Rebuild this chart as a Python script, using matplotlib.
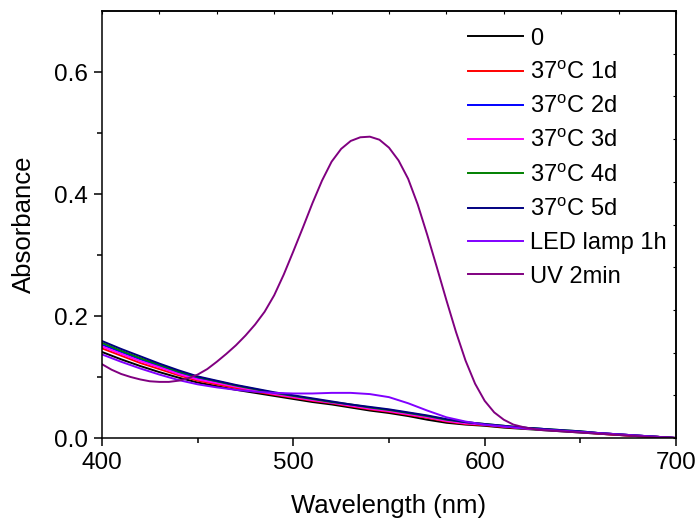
import numpy as np
import matplotlib
matplotlib.use("Agg")
import matplotlib.pyplot as plt

plt.rcParams['font.family'] = ['Liberation Sans', 'DejaVu Sans']
plt.rcParams['mathtext.fontset'] = 'custom'
plt.rcParams['mathtext.rm'] = 'Liberation Sans'

# wavelength grid (nm) for the baseline spectra
wl = list(range(400, 701, 10))

a_0 = [0.141, 0.129, 0.118, 0.108, 0.099, 0.091, 0.085, 0.079, 0.074, 0.069,
       0.064, 0.059, 0.055, 0.050, 0.045, 0.041, 0.036, 0.030, 0.025, 0.022,
       0.020, 0.017, 0.015, 0.013, 0.011, 0.009, 0.007, 0.005, 0.003, 0.002, 0.000]
a_1d = [0.147, 0.135, 0.123, 0.113, 0.103, 0.094, 0.088, 0.082, 0.076, 0.071,
        0.066, 0.061, 0.057, 0.052, 0.047, 0.043, 0.038, 0.033, 0.027, 0.023,
        0.021, 0.018, 0.016, 0.014, 0.012, 0.010, 0.007, 0.005, 0.003, 0.002, 0.000]
a_2d = [0.153, 0.141, 0.129, 0.118, 0.107, 0.098, 0.091, 0.085, 0.079, 0.073,
        0.068, 0.063, 0.058, 0.054, 0.049, 0.045, 0.040, 0.035, 0.029, 0.025,
        0.022, 0.019, 0.017, 0.015, 0.012, 0.010, 0.008, 0.006, 0.004, 0.002, 0.000]
a_3d = [0.150, 0.138, 0.126, 0.116, 0.105, 0.096, 0.090, 0.084, 0.078, 0.072,
        0.067, 0.062, 0.058, 0.053, 0.048, 0.044, 0.039, 0.034, 0.028, 0.024,
        0.022, 0.019, 0.016, 0.014, 0.012, 0.010, 0.008, 0.006, 0.004, 0.002, 0.000]
a_4d = [0.156, 0.143, 0.131, 0.120, 0.109, 0.100, 0.093, 0.086, 0.080, 0.074,
        0.069, 0.064, 0.059, 0.055, 0.050, 0.046, 0.041, 0.036, 0.030, 0.026,
        0.023, 0.020, 0.017, 0.015, 0.013, 0.011, 0.008, 0.006, 0.004, 0.002, 0.000]
a_5d = [0.159, 0.146, 0.134, 0.122, 0.111, 0.101, 0.094, 0.087, 0.081, 0.075,
        0.070, 0.065, 0.060, 0.055, 0.051, 0.047, 0.042, 0.037, 0.031, 0.026,
        0.023, 0.020, 0.017, 0.015, 0.013, 0.011, 0.008, 0.006, 0.004, 0.002, 0.000]
a_led = [0.137, 0.125, 0.114, 0.104, 0.095, 0.088, 0.083, 0.079, 0.076, 0.074,
         0.073, 0.073, 0.074, 0.074, 0.072, 0.067, 0.057, 0.045, 0.034, 0.027,
         0.022, 0.019, 0.016, 0.014, 0.012, 0.010, 0.008, 0.006, 0.004, 0.002, 0.000]

# UV spectrum read on a 5 nm grid
wl_uv = list(range(400, 701, 5))
a_uv = [0.121, 0.112, 0.105, 0.100, 0.096, 0.093, 0.092, 0.092, 0.094, 0.098,
        0.104, 0.113, 0.125, 0.138, 0.152, 0.168, 0.186, 0.207, 0.234, 0.268,
        0.306, 0.345, 0.385, 0.422, 0.453, 0.474, 0.487, 0.493, 0.494, 0.489,
        0.476, 0.455, 0.425, 0.383, 0.333, 0.280, 0.226, 0.174, 0.127, 0.089,
        0.061, 0.042, 0.030, 0.022, 0.018, 0.015, 0.013, 0.012, 0.011, 0.010,
        0.009, 0.008, 0.007, 0.006, 0.005, 0.004, 0.003, 0.002, 0.001, 0.001, 0.000]

deg = r'37$^{\mathrm{o}}$C'
labels = ['0', deg + ' 1d', deg + ' 2d', deg + ' 3d', deg + ' 4d', deg + ' 5d',
          'LED lamp 1h', 'UV 2min']
colors = ['#000000', '#FF0000', '#0000FF', '#FF00FF', '#008000', '#000080',
          '#8000FF', '#800080']
series = [a_0, a_1d, a_2d, a_3d, a_4d, a_5d, a_led]

fig = plt.figure(figsize=(7, 5.22), dpi=100)
ax = fig.add_axes([0.1457, 0.1609, 0.82, 0.8180])

for ys, c, lab in zip(series, colors[:7], labels[:7]):
    ax.plot(wl, ys, color=c, lw=1.4, label=lab)
ax.plot(wl_uv, a_uv, color=colors[7], lw=1.4, label=labels[7])

ax.set_xlim(400, 700)
ax.set_ylim(0, 0.7)
ax.set_xticks([400, 500, 600, 700])
ax.set_xticks([450, 550, 650], minor=True)
ax.set_yticks([0.0, 0.2, 0.4, 0.6])
ax.set_yticks([0.1, 0.3, 0.5], minor=True)
ax.set_yticklabels(['0.0', '0.2', '0.4', '0.6'])
ax.tick_params(which='major', direction='out', length=6, width=1.1, labelsize=17.5, pad=4)
ax.tick_params(which='minor', direction='out', length=3.5, width=1.1)
for s in ax.spines.values():
    s.set_linewidth(1.1)

# mirror axes with small inward ticks
top = ax.secondary_xaxis('top')
top.set_xticks(list(range(400, 701, 30)))
top.tick_params(direction='in', length=2.5, width=0.8, labeltop=False)
right = ax.secondary_yaxis('right')
right.set_yticks([i * 0.07 for i in range(11)])
right.tick_params(direction='in', length=2.5, width=0.8, labelright=False)
top.spines['top'].set_linewidth(1.1)
right.spines['right'].set_linewidth(1.1)

ax.set_xlabel('Wavelength (nm)', fontsize=18.5, labelpad=14.5)
ax.set_ylabel('Absorbance', fontsize=18.5, labelpad=13)

ax.legend(loc='upper left', bbox_to_anchor=(0.6376, 0.961), frameon=False, fontsize=17,
          handlelength=2.33, handletextpad=0.3, labelspacing=0.48,
          borderpad=0, borderaxespad=0)

fig.savefig('out.png', dpi=100)
